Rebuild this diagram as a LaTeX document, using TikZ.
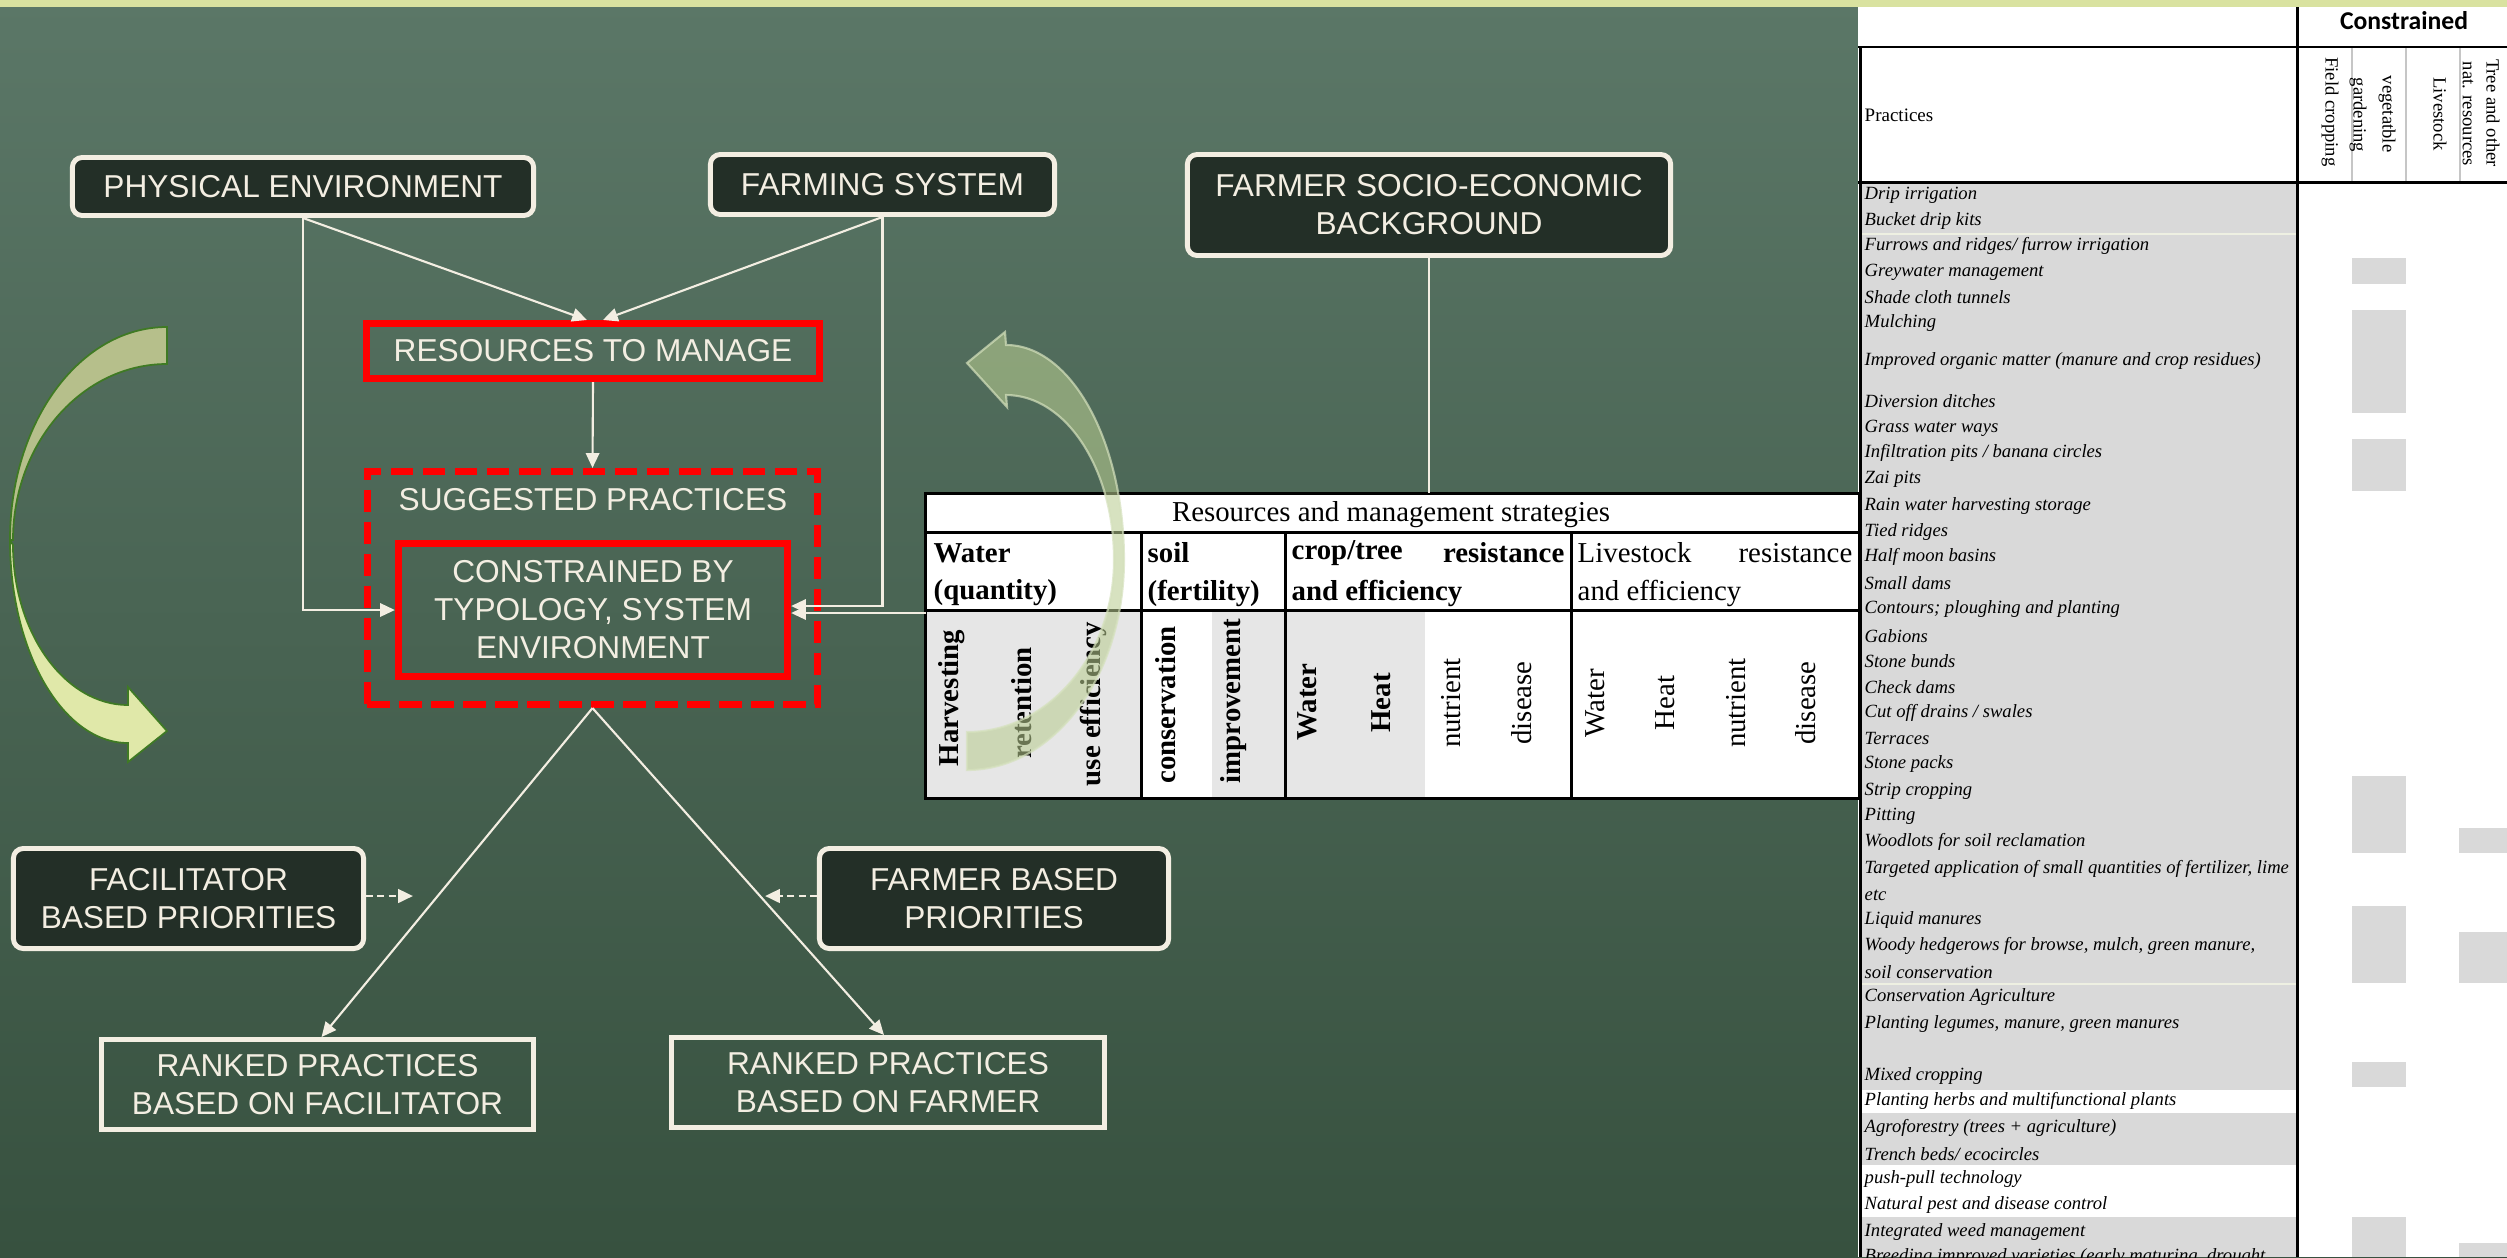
\documentclass[tikz,border=0pt]{standalone}
\usepackage{fontspec}
\setmainfont{Liberation Sans}
\newfontfamily\tabfont{Liberation Serif}
\newfontfamily\hdrfont{Carlito}
\usetikzlibrary{arrows.meta,calc}

\definecolor{bgtop}{HTML}{5B7767}
\definecolor{bgbot}{HTML}{37513F}
\definecolor{strip}{HTML}{D9E2A0}
\definecolor{cream}{HTML}{F3EEE2}
\definecolor{boxdark}{HTML}{232F27}
\definecolor{cellgrey}{HTML}{D9D9D9}
\definecolor{tgrey}{HTML}{E6E6E6}
\definecolor{arrowdark}{HTML}{B6BF8B}
\definecolor{arrowlight}{HTML}{E0E8A9}
\definecolor{arrowedge}{HTML}{3F7A24}
\definecolor{ghost}{HTML}{B9CD91}
\definecolor{sepline}{HTML}{EEF0E2}

\begin{document}
\begin{tikzpicture}[x=0.01cm, y=-0.01cm,
  lbl/.style={text=cream, font=\fontsize{9}{10.8}\selectfont, align=center, inner sep=0pt},
  darkbox/.style={lbl, draw=cream, fill=boxdark, line width=1.4pt, rounded corners=2.8pt},
  outbox/.style={lbl, draw=cream, line width=1.4pt},
  redbox/.style={lbl, draw=red, line width=2pt},
  conn/.style={cream, line width=0.6pt, -{Triangle[length=4.2pt,width=3.8pt]}},
  dashconn/.style={cream, line width=0.8pt, dash pattern=on 2pt off 1.2pt, -{Triangle[length=4.2pt,width=3.8pt]}},
  tab/.style={font=\tabfont\fontsize{8.2}{11.4}\selectfont, text=black, inner sep=0pt},
  tabb/.style={font=\tabfont\bfseries\fontsize{8.2}{11.4}\selectfont, text=black, inner sep=0pt},
  prac/.style={font=\tabfont\itshape\fontsize{5.3}{6.3}\selectfont, text=black, inner sep=0pt, anchor=west},
  colh/.style={font=\tabfont\fontsize{5.3}{6.3}\selectfont, text=black, inner sep=0pt, rotate=-90},
  tline/.style={black, line width=0.85pt}
]
\path[use as bounding box] (0,0) rectangle (2507,1257);
\clip (0,0) rectangle (2507,1257);

% background and top band
\shade[top color=bgtop, bottom color=bgbot] (0,0) rectangle (2507,1257);
\fill[strip] (0,0) rectangle (2507,7);

% ---------- practices table (right) ----------
\fill[white] (1858,7) rectangle (2507,1257);
\fill[cellgrey] (1862,182) rectangle (2297,1257);
\fill[white] (1862,1090) rectangle (2297,1113);
\fill[white] (1862,1165) rectangle (2297,1217);
\draw[sepline, line width=0.6pt] (1862,234) -- (2297,234);
\draw[sepline, line width=0.6pt] (1862,984) -- (2297,984);
\foreach \ya/\yb in {258/284, 310/413, 439/491, 776/853, 906/983, 1062/1087, 1217/1257}
  \fill[cellgrey] (2352,\ya) rectangle (2406,\yb);
\foreach \ya/\yb in {828/853, 932/983, 1243/1257}
  \fill[cellgrey] (2459,\ya) rectangle (2507,\yb);
\foreach \xx in {2352,2406,2460}
  \draw[gray!45, line width=0.6pt] (\xx,47) -- (\xx,182);
\draw[tline] (1858,47) -- (2507,47);
\draw[tline] (1858,182) -- (2507,182);
\draw[tline] (2297,7) -- (2297,1257);
\draw[tline] (1860,47) -- (1860,1257);

\node[font=\hdrfont\bfseries\fontsize{7.3}{8.8}\selectfont, text=black, inner sep=0pt] (constr) at (2404,21) {Constrained};
\node[font=\tabfont\fontsize{5.4}{6.4}\selectfont, text=black, inner sep=0pt, anchor=west] (prhead) at (1864,115) {Practices};
\node[colh] (hfield) at (2330,112) {Field cropping};
\node[colh] (hveg) at (2387,114) {vegetatble};
\node[colh] (hgard) at (2358,115) {gardening};
\node[colh] (hlive) at (2440,114) {Livestock};
\node[colh] (htree) at (2493,113) {Tree and other};
\node[colh] (hnat) at (2468,114) {nat. resources};

\foreach [count=\i] \yy/\tt in {
  195/{Drip irrigation},
  221/{Bucket drip kits},
  246/{Furrows and ridges/ furrow irrigation},
  272/{Greywater management},
  297/{Shade cloth tunnels},
  323/{Mulching},
  361/{Improved organic matter (manure and crop residues)},
  401/{Diversion ditches},
  428/{Grass water ways},
  453/{Infiltration pits / banana circles},
  479/{Zai pits},
  506/{Rain water harvesting storage},
  532/{Tied ridges},
  557/{Half moon basins},
  583/{Small dams},
  609/{Contours; ploughing and planting},
  636/{Gabions},
  661/{Stone bunds},
  687/{Check dams},
  713/{Cut off drains / swales},
  738/{Terraces},
  764/{Stone packs},
  791/{Strip cropping},
  816/{Pitting},
  842/{Woodlots for soil reclamation},
  869/{Targeted application of small quantities of fertilizer, lime},
  895/{etc},
  920/{Liquid manures},
  946/{Woody hedgerows for browse, mulch, green manure,},
  972/{soil conservation},
  997/{Conservation Agriculture},
  1024/{Planting legumes, manure, green manures},
  1076/{Mixed cropping},
  1101/{Planting herbs and multifunctional plants},
  1128/{Agroforestry (trees + agriculture)},
  1154/{Trench beds/ ecocircles},
  1179/{push-pull technology},
  1205/{Natural pest and disease control},
  1232/{Integrated weed management},
  1257/{Breeding improved varieties (early maturing, drought}}
  \node[prac] (p\i) at (1864,\yy) {\tt};

% ---------- left curved arrow ----------
\draw[fill=arrowdark, draw=arrowedge, line width=0.5pt]
  (10,540) .. controls (10,422) and (80,327) .. (167,327) -- (167,364)
  .. controls (82,364) and (13,443) .. (13,540) -- cycle;
\draw[fill=arrowlight, draw=arrowedge, line width=0.5pt]
  (10,540) .. controls (10,652) and (63,743) .. (128,743) -- (128,762) -- (167,731)
  -- (128,687) -- (128,705) .. controls (65,705) and (13,633) .. (13,545) -- cycle;

% ---------- flow nodes ----------
\node[darkbox, minimum width=4.61cm, minimum height=0.58cm] (phys) at (303,186.5) {PHYSICAL ENVIRONMENT};
\node[darkbox, minimum width=3.44cm, minimum height=0.60cm] (farm) at (882.5,184.5) {FARMING SYSTEM};
\node[darkbox, minimum width=4.83cm, minimum height=1.01cm] (socio) at (1429,205) {FARMER SOCIO-ECONOMIC\\BACKGROUND};
\node[redbox, minimum width=4.53cm, minimum height=0.55cm] (res) at (593,351) {RESOURCES TO MANAGE};
\node[redbox, dash pattern=on 6.3pt off 2.8pt, minimum width=4.50cm, minimum height=2.33cm] (sugg) at (592.5,588) {};
\node[lbl] (suggtxt) at (593,500) {SUGGESTED PRACTICES};
\node[redbox, minimum width=3.89cm, minimum height=1.33cm] (cons) at (593,610) {CONSTRAINED BY\\TYPOLOGY, SYSTEM\\ENVIRONMENT};
\node[darkbox, minimum width=3.50cm, minimum height=1.00cm] (fac) at (188.5,898.5) {FACILITATOR\\BASED PRIORITIES};
\node[darkbox, minimum width=3.49cm, minimum height=1.00cm] (fbp) at (994,898.5) {FARMER BASED\\PRIORITIES};
\node[outbox, minimum width=4.32cm, minimum height=0.90cm] (rf) at (317.5,1084.5) {RANKED PRACTICES\\BASED ON FACILITATOR};
\node[outbox, minimum width=4.33cm, minimum height=0.90cm] (rfa) at (888,1082.5) {RANKED PRACTICES\\BASED ON FARMER};

% ---------- strategies table (middle) ----------
\node[fill=white, minimum width=9.32cm, minimum height=3.04cm, inner sep=0pt] (tbl) at (1392,646) {};
\fill[tgrey] (926,610) rectangle (1141,798);
\fill[tgrey] (1212,610) rectangle (1285,798);
\fill[tgrey] (1285,610) rectangle (1425,798);
\draw[tline] (tbl.north west) rectangle (tbl.south east);
\draw[tline] (926,532) -- (1858,532);
\draw[tline] (926,610) -- (1858,610);
\foreach \xx in {1141,1285,1571}
  \draw[tline] (\xx,532) -- (\xx,798);

\node[tab] (ttitle) at (1391,515) {Resources and management strategies};
\node[tabb, anchor=west] (cw1) at (933,553) {Water};
\node[tabb, anchor=west] (cw2) at (933,593) {(quantity)};
\node[tabb, anchor=west] (cs1) at (1147,553) {soil};
\node[tabb, anchor=west] (cs2) at (1147,593) {(fertility)};
\node[tabb, anchor=west] (cc1) at (1291,553) {crop/tree};
\node[tabb, anchor=east] (cc2) at (1565,553) {resistance};
\node[tabb, anchor=west] (cc3) at (1291,593) {and efficiency};
\node[tab, anchor=west] (cl1) at (1577,553) {Livestock};
\node[tab, anchor=east] (cl2) at (1853,553) {resistance};
\node[tab, anchor=west] (cl3) at (1577,593) {and efficiency};

\node[tabb, rotate=90] (b1) at (952,698) {Harvesting};
\node[tabb, rotate=90] (b2) at (1022,703) {retention};
\node[tabb, rotate=90] (b3) at (1093,704) {use efficiency};
\node[tabb, rotate=90] (b4) at (1166,705) {conservation};
\node[tabb, rotate=90] (b5) at (1234,701) {improvement};
\node[tabb, rotate=90] (b6) at (1307,702) {Water};
\node[tabb, rotate=90] (b7) at (1381,703) {Heat};
\node[tab, rotate=90] (b8) at (1451,703) {nutrient};
\node[tab, rotate=90] (b9) at (1522,703) {disease};
\node[tab, rotate=90] (b10) at (1595,703) {Water};
\node[tab, rotate=90] (b11) at (1665,703) {Heat};
\node[tab, rotate=90] (b12) at (1736,703) {nutrient};
\node[tab, rotate=90] (b13) at (1806,703) {disease};

% ---------- connectors ----------
\draw[conn] (phys.south) -- ([xshift=-0.06cm]res.north);
\draw[conn] (farm.south) -- ([xshift=0.1cm]res.north);
\draw[conn] (phys.south) |- (cons.west);
\draw[conn] (farm.south) |- ([yshift=0.04cm]cons.east);
\coordinate (tblin) at (926,613);
\draw[conn] (tblin) -- (tblin -| cons.east);
\draw[cream, line width=0.6pt] (socio.south) -- (socio.south |- tbl.north);
\draw[conn] (res.south) -- (sugg.north);
\draw[conn] (sugg.south) -- ([xshift=0.04cm]rf.north);
\draw[conn] (sugg.south) -- ([xshift=-0.04cm]rfa.north);
\coordinate (facend) at (413,896);
\coordinate (fbpend) at (765,896);
\draw[dashconn] (fac.east |- facend) -- (facend);
\draw[dashconn] (fbp.west |- fbpend) -- (fbpend);

% ---------- translucent curved arrow over the table ----------
\draw[fill=ghost, fill opacity=0.57, draw=ghost!60!white, draw opacity=0.7, line width=0.6pt]
  (967,770) .. controls (1054,770) and (1124,676) .. (1124,560)
  .. controls (1124,441) and (1071,345) .. (1006,345) -- (1005,332) -- (967,363)
  -- (1007,407) -- (1006,395) .. controls (1066,395) and (1114,469) .. (1114,560)
  .. controls (1114,655) and (1048,732) .. (967,732) -- cycle;
\end{tikzpicture}
\end{document}
